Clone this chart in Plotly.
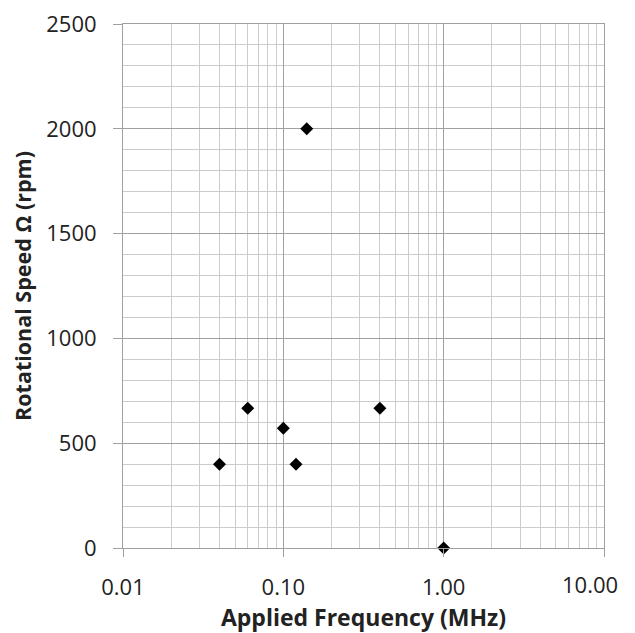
import math
import plotly.graph_objects as go

freq_mhz = [0.04, 0.06, 0.10, 0.12, 0.14, 0.40, 1.00]
speed_rpm = [400, 667, 571, 400, 2000, 667, 0]

x_tickvals = [0.01, 0.1, 1, 10]
x_ticktext = ["0.01", "0.10", "1.00", "10.00"]
y_tickvals = [0, 500, 1000, 1500, 2000, 2500]

font_family = "Open Sans, Liberation Sans, sans-serif"
major = "#a0a0a0"
minor = "#cccccc"

fig = go.Figure()
fig.add_trace(go.Scatter(
    x=freq_mhz, y=speed_rpm, mode="markers",
    marker=dict(symbol="diamond", size=10, color="black"),
    cliponaxis=False, showlegend=False,
))

# last x tick label is drawn as an annotation so it can sit inside the window
# (annotation x on a log axis is given in log10 units)
fig.add_annotation(
    x=math.log10(x_tickvals[-1]), xref="x", y=0, yref="paper",
    text=x_ticktext[-1], showarrow=False,
    xanchor="center", yanchor="top", xshift=-14, yshift=-19,
    font=dict(size=22, family=font_family, color="#222"),
)

fig.update_layout(
    width=627, height=625,
    margin=dict(l=115, r=31, t=16, b=85),
    paper_bgcolor="white", plot_bgcolor="white",
    font=dict(family=font_family, size=16, color="#222"),
    xaxis=dict(
        type="log", range=[-2, 1],
        tickvals=x_tickvals, ticktext=x_ticktext[:-1] + [""],
        showgrid=True, gridcolor=major, gridwidth=1,
        minor=dict(dtick="D1", showgrid=True, gridcolor=minor, gridwidth=1, ticks=""),
        ticks="outside", ticklen=8, tickcolor=major,
        ticklabelstandoff=12, ticklabeloverflow="allow", automargin=False,
        showline=True, linecolor=major, mirror=True,
        zeroline=False,
        tickfont=dict(size=22),
        title=dict(text="<b>Applied Frequency (MHz)</b>", font=dict(size=23), standoff=10),
    ),
    yaxis=dict(
        range=[0, 2500],
        tickvals=y_tickvals,
        showgrid=True, gridcolor=major, gridwidth=1,
        minor=dict(dtick=100, showgrid=True, gridcolor=minor, gridwidth=1, ticks=""),
        ticks="outside", ticklen=9, tickcolor=major,
        ticklabelstandoff=12, ticklabeloverflow="allow", automargin=False,
        showline=True, linecolor=major, mirror=True,
        zeroline=False,
        tickfont=dict(size=22),
        title=dict(text="<b>Rotational Speed Ω (rpm)</b>", font=dict(size=21.5), standoff=10),
    ),
)

fig.write_html("out.html")
